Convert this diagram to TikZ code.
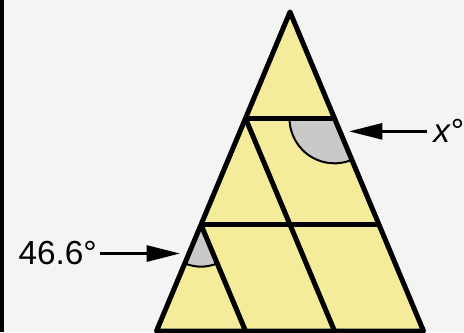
\documentclass[tikz,border=0pt]{standalone}
\usepackage{fontspec}
\setmainfont{Liberation Sans}
\usetikzlibrary{arrows.meta,calc}
\definecolor{paleyellow}{HTML}{F4EC9A}
\definecolor{anglegray}{HTML}{C9C9C9}
\definecolor{backgray}{HTML}{F4F4F4}
\begin{document}
\begin{tikzpicture}[x=0.75pt, y=0.75pt,
            edge/.style={line width=3.75pt, line join=round},
            sector/.style={fill=anglegray, draw=black, line width=1.5pt},
            pointer/.style={line width=2pt, -{Triangle[length=25pt, width=12pt]}},
            lbl/.style={font=\fontsize{25}{30}\selectfont, inner sep=0pt}]
            \useasboundingbox (0,0) rectangle (464,332);
            \fill[backgray] (0,0) rectangle (464,332);
            \fill[black] (0,0) rectangle (4,332);
            \coordinate (A) at (290,320);
            \coordinate (BL) at (156.5,1);
            \coordinate (BR) at (423.5,1);
            \coordinate (L1) at ($(A)!1/3!(BL)$);
            \coordinate (R1) at ($(A)!1/3!(BR)$);
            \coordinate (L2) at ($(A)!2/3!(BL)$);
            \coordinate (R2) at ($(A)!2/3!(BR)$);
            \coordinate (M) at ($(L1)+(R1)-(A)$);
            \coordinate (S1) at ($(L1)!2!(M)$);
            \coordinate (S2) at ($(L2)+(R1)-(A)$);
            \fill[paleyellow] (A) -- (BL) -- (BR) -- cycle;
            \draw[sector] (L2) -- ++(247.3:42) arc[start angle=247.3, end angle=292.7, radius=42] -- cycle;
            \draw[sector] (R1) -- ++(180:45) arc[start angle=180, end angle=292.7, radius=45] -- cycle;
            \draw[edge] (A) -- (BL) -- (BR) -- cycle;
            \draw[edge] (L1) -- (R1);
            \draw[edge] (L2) -- (R2);
            \draw[edge] (L1) -- (S1);
            \draw[edge] (L2) -- (S2);
            % labels
            \node[lbl, anchor=base east] (angleA) at (97,67) {46.6°};
            \node[lbl, anchor=base west] (angleX) at (433,189) {\textit{x}°};
            \coordinate (tipA) at (180,78);
            \coordinate (tipX) at (349,200);
            \draw[pointer] ([xshift=2pt]angleA.east) -- (angleA.east -| tipA);
            \draw[pointer] ([xshift=-4.5pt]angleX.west) -- (angleX.west -| tipX);
        \end{tikzpicture}
\end{document}
